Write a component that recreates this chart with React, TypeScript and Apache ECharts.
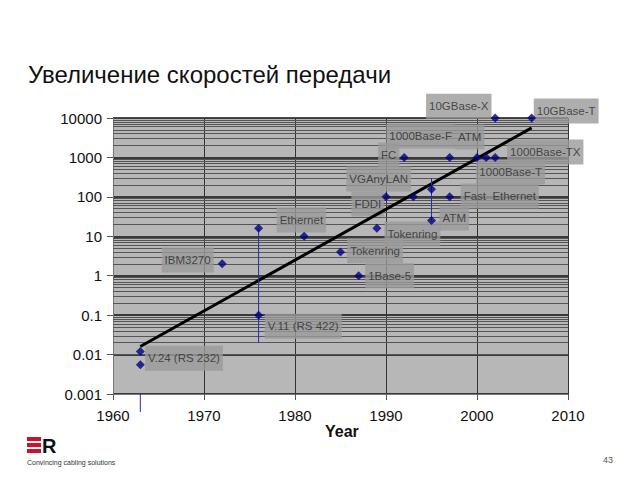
import React, { useEffect, useRef } from "react";
import * as echarts from "echarts";

const xTicks = [1960, 1970, 1980, 1990, 2000, 2010];
const yDecades = [0.001, 0.01, 0.1, 1, 10, 100, 1000, 10000];

// Technology points (year, Mbit/s)
const pointYears = [1963, 1963, 1972, 1976, 1976, 1981, 1985, 1987, 1989, 1990, 1993, 1995, 1995, 1997, 1992, 1997, 2000, 2001, 2002, 2002, 2006];
const pointValues = [0.012, 0.0055, 2, 16, 0.1, 10, 4, 1, 16, 100, 100, 155, 25, 100, 1000, 1000, 1000, 1000, 1000, 10000, 10000];

// Trend line endpoints
const trendYears = [1963, 2006];
const trendValues = [0.016, 5600];

// Range bars
const barYears = [1976, 1995, 1963];
const barLow = [0.02, 25, 0.00035];
const barHigh = [16, 300, 0.001];

// Annotation boxes
const labelTexts = ["10GBase-X", "10GBase-T", "ATM", "1000Base-F", "FC", "1000Base-TX", "1000Base-T", "VGAnyLAN", "FDDI", "Fast  Ethernet", "ATM", "Ethernet", "Tokenring", "Tokenring", "1Base-5", "IBM3270", "V.11 (RS 422)", "V.24 (RS 232)"];
const labelYears = [1998.0, 2009.8, 1999.2, 1993.8, 1990.3, 2007.5, 2003.7, 1989.2, 1988.0, 2002.5, 1997.5, 1980.7, 1992.9, 1988.8, 1990.4, 1968.2, 1980.9, 1967.8];
const labelValues = [19950, 15100, 3310, 3470, 1150, 1380, 427, 282, 66, 105, 29, 26, 11.5, 4.3, 1.0, 2.5, 0.052, 0.0081];

const minorValues: number[] = [];
for (let d = 0; d < yDecades.length - 1; d++) {
  for (let m = 2; m <= 9; m++) minorValues.push(+(yDecades[d] * m).toPrecision(2));
}

export default function App() {
  const ref = useRef<HTMLDivElement>(null);
  useEffect(() => {
    if (!ref.current) return;
    const chart = echarts.init(ref.current, null, { renderer: "svg" });
    const font = "Liberation Sans, Arial, sans-serif";
    chart.setOption({
      animation: false,
      backgroundColor: "#ffffff",
      grid: {
        left: 113,
        right: 72,
        top: 118,
        bottom: 86,
        show: true,
        backgroundColor: "#b7b7b7",
        borderWidth: 0,
      },
      xAxis: {
        type: "value",
        min: xTicks[0],
        max: xTicks[xTicks.length - 1],
        interval: 10,
        axisLine: { show: true, onZero: false, lineStyle: { color: "#777", width: 1 } },
        axisTick: { show: true, length: 6, lineStyle: { color: "#555" } },
        axisLabel: { color: "#111", fontSize: 15, fontFamily: font, margin: 14, formatter: (v: number) => String(v) },
        splitLine: { show: true, lineStyle: { color: "#333", width: 1 } },
      },
      yAxis: {
        type: "log",
        logBase: 10,
        min: 0.001,
        max: 10000,
        axisLine: { show: true, lineStyle: { color: "#777", width: 1 } },
        axisTick: { show: true, length: 6, lineStyle: { color: "#555" } },
        axisLabel: {
          color: "#111",
          fontSize: 15,
          fontFamily: font,
          margin: 11,
          formatter: (v: number) => String(+v.toPrecision(1)),
        },
        splitLine: { show: true, lineStyle: { color: "#111", width: 1.5 } },
      },
      series: [
        {
          type: "line",
          data: [[1960, 1]],
          showSymbol: false,
          lineStyle: { opacity: 0 },
          silent: true,
          z: 1,
          markLine: {
            silent: true,
            symbol: ["none", "none"],
            label: { show: false },
            lineStyle: { color: "#555", width: 1, type: "solid" },
            data: minorValues.map((v) => ({ yAxis: v })),
          },
        },
        {
          type: "scatter",
          z: 10,
          clip: false,
          symbolSize: 0,
          itemStyle: { color: "rgba(0,0,0,0)" },
          silent: true,
          label: {
            show: true,
            position: "inside",
            formatter: (p: any) => p.name,
            color: "#2b2b2b",
            fontSize: 11.5,
            fontFamily: font,
            backgroundColor: "#9a9a9a",
            padding: [7, 3, 6, 3],
          },
          data: labelTexts.map((t, i) => ({ name: t, value: [labelYears[i], labelValues[i]] })),
        },
        {
          type: "line",
          z: 11,
          clip: true,
          showSymbol: false,
          lineStyle: { color: "#000", width: 3 },
          data: trendYears.map((y, i) => [y, trendValues[i]]),
        },
        ...barYears.map((y, i) => ({
          type: "line",
          z: 11,
          clip: false,
          showSymbol: false,
          lineStyle: { color: "#2a2ab0", width: 1 },
          data: [
            [y, barLow[i]],
            [y, barHigh[i]],
          ],
        })),
        {
          type: "scatter",
          z: 12,
          symbol: "diamond",
          symbolSize: 9,
          itemStyle: { color: "#000080" },
          data: pointYears.map((y, i) => [y, pointValues[i]]),
        },
      ],
      graphic: [
        {
          type: "text",
          left: 28,
          top: 62,
          style: { text: "Увеличение скоростей передачи", fontSize: 24, fontFamily: font, fill: "#111" },
        },
        {
          type: "text",
          left: 325,
          top: 423,
          style: { text: "Year", fontSize: 16, fontWeight: "bold", fontFamily: font, fill: "#111" },
        },
        { type: "rect", shape: { x: 27, y: 437, width: 14, height: 4 }, style: { fill: "#d0102a" } },
        { type: "rect", shape: { x: 27, y: 443, width: 14, height: 4 }, style: { fill: "#d0102a" } },
        { type: "rect", shape: { x: 27, y: 449, width: 14, height: 4 }, style: { fill: "#d0102a" } },
        {
          type: "text",
          left: 42,
          top: 436,
          style: { text: "R", fontSize: 20, fontWeight: "bold", fontFamily: font, fill: "#111" },
        },
        {
          type: "text",
          left: 27,
          top: 459,
          style: { text: "Convincing cabling solutions", fontSize: 7, fontFamily: font, fill: "#333" },
        },
        {
          type: "text",
          left: 603,
          top: 455,
          style: { text: "43", fontSize: 9, fontFamily: font, fill: "#555" },
        },
      ],
    });
    return () => chart.dispose();
  }, []);
  return <div ref={ref} style={{ position: "absolute", left: 0, top: 0, width: 640, height: 480 }} />;
}
